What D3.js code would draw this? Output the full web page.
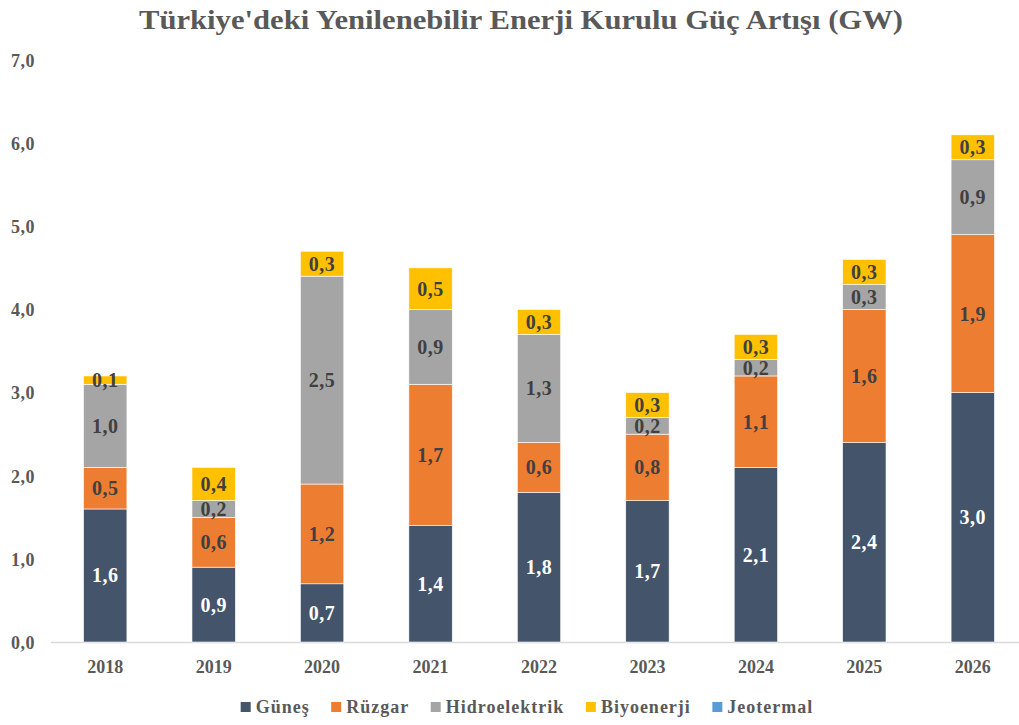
<!DOCTYPE html>
<meta charset="utf-8">
<style>
body { margin: 0; background: #fff; }
text {
  font-family: "Liberation Serif", "Times New Roman", serif;
  font-weight: bold;
}
.axis text { fill: #595959; font-size: 18px; }
.axis path, .axis line { display: none; }
</style>
<svg></svg>
<script src="https://d3js.org/d3.v7.min.js"></script>
<script>

var years = ["2018", "2019", "2020", "2021", "2022", "2023", "2024", "2025", "2026"];
var gunes      = [1.6, 0.9, 0.7, 1.4, 1.8, 1.7, 2.1, 2.4, 3.0];
var ruzgar     = [0.5, 0.6, 1.2, 1.7, 0.6, 0.8, 1.1, 1.6, 1.9];
var hidro      = [1.0, 0.2, 2.5, 0.9, 1.3, 0.2, 0.2, 0.3, 0.9];
var biyo       = [0.1, 0.4, 0.3, 0.5, 0.3, 0.3, 0.3, 0.3, 0.3];
var jeotermal  = [0, 0, 0, 0, 0, 0, 0, 0, 0];
var seriesNames = ["Güneş", "Rüzgar", "Hidroelektrik", "Biyoenerji", "Jeotermal"];
var yTicks = [0, 1, 2, 3, 4, 5, 6, 7];

var colors = ["#44546A", "#ED7D31", "#A5A5A5", "#FFC000", "#5B9BD5"];
var labelColors = ["#ffffff", "#404040", "#404040", "#404040", "#404040"];

var width = 1019, height = 725;
var svg = d3.select("svg").attr("width", width).attr("height", height);

// build rows for d3.stack
var allSeries = [gunes, ruzgar, hidro, biyo, jeotermal];
var rows = years.map(function(y, i) {
  var r = { year: y };
  seriesNames.forEach(function(n, k) { r[n] = allSeries[k][i]; });
  return r;
});
var stacked = d3.stack().keys(seriesNames)(rows);

var x = d3.scaleBand()
    .domain(years)
    .range([51, 1027])
    .paddingInner(0.6)
    .paddingOuter(0.3);

var y = d3.scaleLinear()
    .domain([0, 7])
    .range([642, 60]);

var fmt = function(v) { return d3.format(".1f")(v).replace(".", ","); };

// title
svg.append("text")
    .attr("x", 521)
    .attr("y", 29)
    .attr("text-anchor", "middle")
    .attr("textLength", 764)
    .attr("lengthAdjust", "spacingAndGlyphs")
    .style("font-size", "28px")
    .style("fill", "#595959")
    .text("Türkiye'deki  Yenilenebilir Enerji Kurulu Güç Artışı (GW)");

// y axis labels
svg.append("g")
    .attr("class", "axis")
    .attr("transform", "translate(35,0)")
    .call(d3.axisLeft(y).tickValues(yTicks).tickSize(0).tickPadding(0).tickFormat(fmt))
    .selectAll("text").attr("dy", "0.35em").style("letter-spacing", "0.5px");

// baseline
svg.append("line")
    .attr("x1", 51).attr("x2", width)
    .attr("y1", y(0) + 0.5).attr("y2", y(0) + 0.5)
    .style("stroke", "#d9d9d9")
    .style("stroke-width", 1.5);

// bars
var layer = svg.append("g").selectAll("g")
    .data(stacked)
    .enter().append("g")
    .style("fill", function(d, i) { return colors[i]; });

layer.selectAll("rect")
    .data(function(d) { return d; })
    .enter().append("rect")
    .attr("x", function(d) { return x(d.data.year); })
    .attr("width", x.bandwidth())
    .attr("y", function(d) { return y(d[1]); })
    .attr("height", function(d) { return y(d[0]) - y(d[1]); })
    .style("stroke", "#fff")
    .style("stroke-width", 0.6);

// value labels
stacked.forEach(function(s, k) {
  svg.append("g").selectAll("text")
    .data(s.filter(function(d) { return d[1] - d[0] > 0; }))
    .enter().append("text")
    .attr("x", function(d) { return x(d.data.year) + x.bandwidth() / 2; })
    .attr("y", function(d) { return (y(d[0]) + y(d[1])) / 2; })
    .attr("dy", "0.35em")
    .attr("text-anchor", "middle")
    .style("font-size", "20px")
    .style("letter-spacing", "0.5px")
    .style("fill", labelColors[k])
    .text(function(d) { return fmt(d[1] - d[0]); });
});

// x axis labels
svg.append("g")
    .attr("class", "axis")
    .attr("transform", "translate(0," + 667 + ")")
    .call(d3.axisBottom(x).tickSize(0).tickPadding(0))
    .selectAll("text").attr("dy", "0.35em");

// legend
var gap = 21.5;
var legend = svg.append("g");
var lx = 0;
seriesNames.forEach(function(n, i) {
  var item = legend.append("g").attr("transform", "translate(" + lx + ",0)");
  item.append("rect")
    .attr("x", 0).attr("y", -5)
    .attr("width", 10).attr("height", 10)
    .style("fill", colors[i]);
  var t = item.append("text")
    .attr("x", 15)
    .attr("dy", "0.35em")
    .style("font-size", "18px")
    .style("letter-spacing", "1px")
    .style("fill", "#595959")
    .text(n);
  lx += 15 + t.node().getComputedTextLength() + gap;
});
var legendW = lx - gap;
legend.attr("transform", "translate(" + (527 - legendW / 2) + ",707)");

</script>
